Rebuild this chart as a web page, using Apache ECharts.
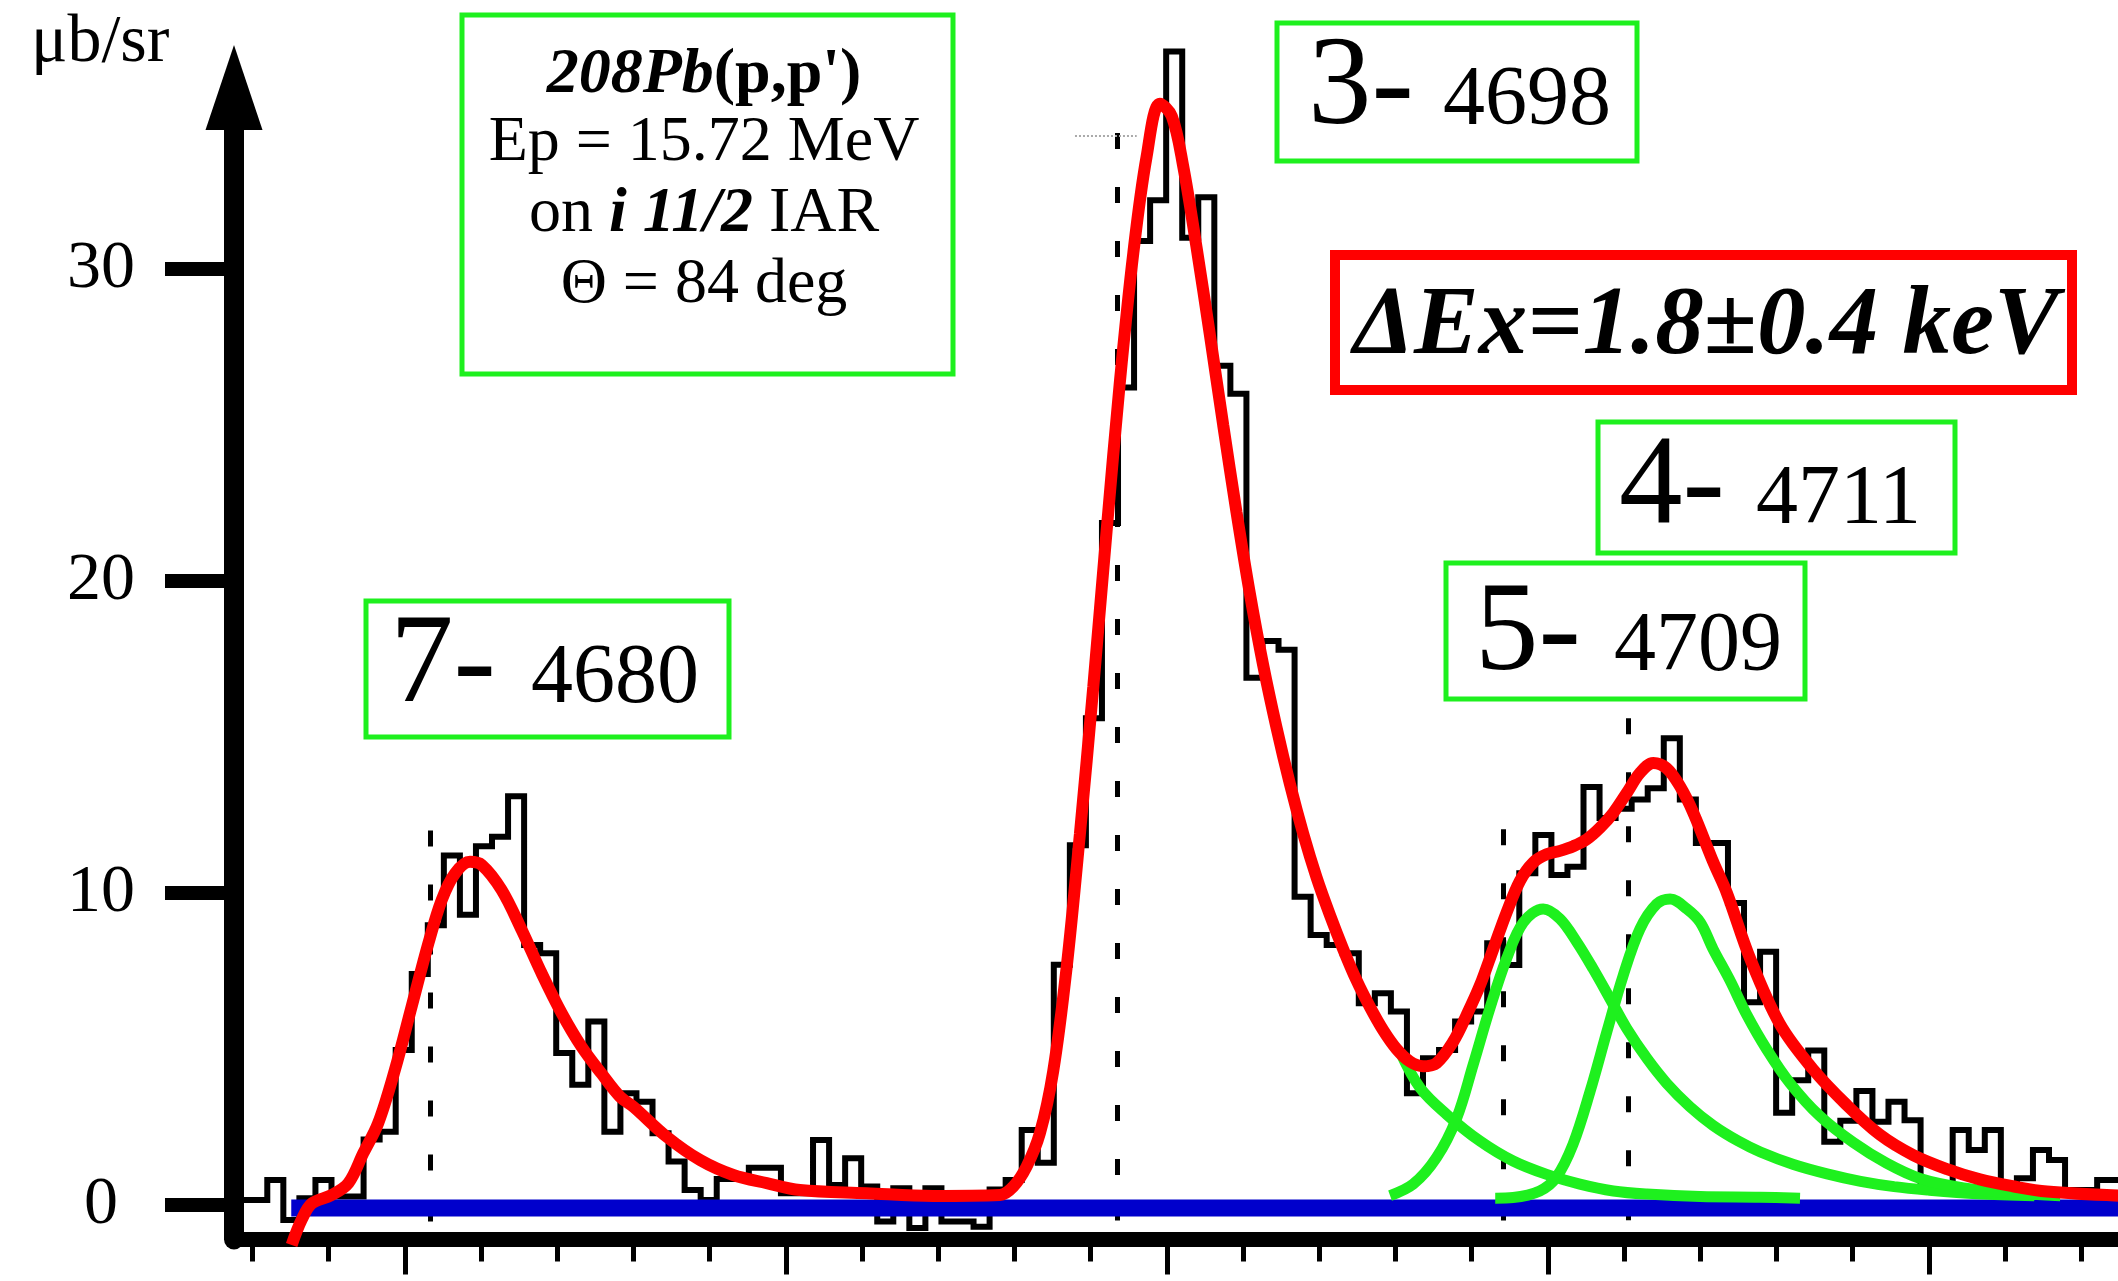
<!DOCTYPE html>
<html><head><meta charset="utf-8">
<script src="https://cdn.jsdelivr.net/npm/echarts@6/dist/echarts.min.js"></script>
<style>html,body{margin:0;padding:0;background:#fff}#c{width:2118px;height:1281px}</style>
</head><body><div id="c"></div>
<script>
// ---------- data ----------
const binStart = 4675.548;   // left edge of first histogram bin (keV-like axis units)
const binWidth = 0.4213;     // bin width
const counts = [
 0.16,0.16,0.8,-0.48,0.22,0.8,0.27,0.27,2.1,2.35,
 4.97,7.4,8.97,11.2,9.3,11.5,11.8,13.1,8.33,8.07,
 4.87,3.85,5.88,2.35,3.58,3.31,2.3,1.39,0.48,0.16,
 0.83,0.83,1.19,1.19,0.38,0.38,2.08,0.64,1.5,0.59,
 -0.53,0.54,-0.74,0.54,-0.53,-0.53,-0.7,0.5,0.8,2.4,
 1.35,7.7,11.53,15.6,21.86,26.2,30.9,32.2,36.97,31.0,
 32.3,26.9,26.0,16.9,18.08,17.8,9.88,8.65,8.33,8.07,
 6.47,6.79,6.2,3.58,4.7,4.97,5.88,6.2,8.39,7.69,
 10.63,11.86,10.58,10.84,13.4,12.4,12.7,13.0,13.36,14.96,
 13.0,11.6,11.6,9.68,6.5,8.12,2.96,4.0,4.95,2.03,
 2.7,3.65,2.67,3.31,2.72,0.48,0.48,2.4,1.76,2.4,
 0.59,0.86,1.76,1.44,0.48,0.48,0.8,0.8
];
const fitTotal = [
 [4677.03,-1.28],[4677.29,-0.48],[4677.56,0.05],[4678.08,0.32],[4678.52,0.7],[4678.91,1.66],[4679.30,2.62],
 [4679.74,4.33],[4680.18,6.36],[4680.62,8.39],[4680.97,9.78],[4681.32,10.63],[4681.71,11.0],[4682.02,10.9],
 [4682.54,10.1],[4683.07,8.81],[4683.59,7.43],[4684.12,6.14],[4684.64,5.07],[4685.17,4.2],[4685.65,3.47],
 [4686.00,3.15],[4686.87,2.19],[4687.75,1.44],[4688.62,0.96],[4689.50,0.7],[4690.37,0.48],[4692.12,0.38],
 [4693.87,0.29],[4695.62,0.32],[4695.97,0.59],[4696.32,1.23],[4696.67,2.3],[4697.02,4.3],[4697.37,7.6],
 [4697.72,11.9],[4698.07,16.6],[4698.42,21.6],[4698.77,26.4],[4699.12,30.5],[4699.47,33.6],[4699.82,35.3],
 [4700.13,34.9],[4700.43,33.3],[4700.78,30.7],[4701.13,27.9],[4701.48,25.0],[4701.83,22.2],[4702.18,19.6],
 [4702.53,17.3],[4702.88,15.3],[4703.23,13.5],[4703.58,11.9],[4703.93,10.5],[4704.28,9.3],[4704.63,8.2],
 [4704.98,7.2],[4705.33,6.35],[4705.68,5.6],[4706.03,5.0],[4706.38,4.6],[4706.73,4.45],[4707.08,4.55],
 [4707.52,5.24],[4707.87,6.09],[4708.22,7.04],[4708.57,8.21],[4708.92,9.38],
 [4709.27,10.39],[4709.62,10.98],[4709.97,11.24],[4710.32,11.35],[4710.67,11.5],[4711.02,11.72],[4711.37,12.09],
 [4711.72,12.57],[4712.07,13.2],[4712.42,13.85],[4712.77,14.17],[4713.12,14.0],[4713.47,13.42],[4713.82,12.57],
 [4714.34,11.0],[4714.70,10.0],[4715.31,7.9],[4716.09,5.8],[4716.96,4.35],[4717.85,3.2],[4718.72,2.25],
 [4719.59,1.6],[4720.48,1.15],[4721.34,0.82],[4722.21,0.6],[4723.10,0.43],[4724.97,0.3]
];
const fit3Tail = [
 [4706.12,4.92],[4706.65,3.75],[4707.35,2.9],[4708.22,2.05],[4709.09,1.41],[4709.97,0.98],[4710.84,0.67],
 [4711.72,0.45],[4712.60,0.35],[4714.00,0.27],[4715.57,0.25],[4716.62,0.22]
];
const fit5 = [
 [4705.86,0.3],[4706.47,0.67],[4707.08,1.52],[4707.61,2.79],[4708.04,4.49],[4708.48,6.3],
 [4708.92,7.9],[4709.36,9.06],[4709.88,9.49],[4710.32,9.17],[4710.76,8.43],[4711.19,7.57],[4711.63,6.62],
 [4712.07,5.66],[4712.60,4.7],[4713.12,3.9],[4713.73,3.15],[4714.34,2.55],[4715.00,2.05],[4715.58,1.7],
 [4716.45,1.3],[4717.33,1.0],[4718.21,0.76],[4719.09,0.59],[4719.96,0.48],[4721.27,0.36],[4722.77,0.3]
];
const fit4 = [
 [4708.62,0.22],[4709.09,0.24],[4709.79,0.45],[4710.22,0.88],[4710.66,1.94],[4711.11,3.64],[4711.55,5.55],
 [4711.98,7.36],[4712.42,8.85],[4712.86,9.65],[4713.21,9.81],[4713.65,9.49],[4714.00,9.06],[4714.34,8.2],
 [4714.78,7.2],[4715.22,6.1],[4715.74,5.0],[4716.36,3.9],[4717.14,2.85],[4718.02,2.0],[4718.89,1.34],
 [4719.77,0.85],[4720.91,0.55],[4722.21,0.38],[4723.45,0.3]
];
const baseline = [[4677.02,-0.1],[4724.97,-0.1]];
const peakMarks = [
 {x:4680.68, y0:-0.53, y1:12.0},
 {x:4698.71, y0:-0.5, y1:34.36},
 {x:4708.83, y0:-0.5, y1:12.04},
 {x:4712.11, y0:-0.5, y1:15.6}
];
const yTicks = [0, 10, 20, 30];
const xMajor = [4680, 4690, 4700, 4710, 4720];
const xMinor = [4676,4678,4682,4684,4686,4688,4692,4694,4696,4698,4702,4704,4706,4708,4712,4714,4716,4718,4722,4724];
const xRange = [4675.517, 4724.966];
const yRange = [-1.106, 35.817];

// ---------- build ----------
const histPts = counts.map((c, i) => [binStart + i * binWidth, c]);
histPts.push([binStart + counts.length * binWidth, counts[counts.length - 1]]);

const GREEN = '#1ef01e';
const SERIF = 'Liberation Serif';
function txt(x, y, text, size, extra) {
  return Object.assign({type:'text', x:x, y:y, z:100, style:Object.assign({
    text:text, fontFamily:SERIF, fontSize:size, fill:'#000',
    textAlign:'left', textVerticalAlign:'middle', align:'left', verticalAlign:'middle'
  }, extra || {})});
}
function box(x, y, w, h, color, lw) {
  return {type:'rect', z:90, shape:{x:x, y:y, width:w, height:h}, style:{fill:'#fff', stroke:color, lineWidth:lw}};
}
const richBase = {fontFamily:SERIF, fontSize:64, fill:'#000'};

const chart = echarts.init(document.getElementById('c'), null, {renderer:'canvas'});
chart.setOption({
  animation:false,
  backgroundColor:'#fff',
  grid:{left:234, right:0, top:87.5, bottom:41.5, containLabel:false, outerBoundsMode:'none'},
  xAxis:[
    {type:'value', min:xRange[0], max:xRange[1], position:'bottom',
     axisLine:{show:true, onZero:false, lineStyle:{color:'#000', width:15}},
     axisTick:{show:true, customValues:xMajor, length:35, lineStyle:{color:'#000', width:5}},
     axisLabel:{show:false}, splitLine:{show:false}},
    {type:'value', min:xRange[0], max:xRange[1], position:'bottom', gridIndex:0,
     axisLine:{show:false, onZero:false},
     axisTick:{show:true, customValues:xMinor, length:22, lineStyle:{color:'#000', width:5}},
     axisLabel:{show:false}, splitLine:{show:false}}
  ],
  yAxis:{type:'value', min:yRange[0], max:yRange[1],
    axisLine:{show:true, onZero:false, symbol:['none','triangle'], symbolSize:[57,85], lineStyle:{color:'#000', width:20}},
    axisTick:{show:true, customValues:yTicks, length:69, lineStyle:{color:'#000', width:14}},
    axisLabel:{show:true, customValues:yTicks, margin:133, align:'center', verticalAlign:'middle',
      fontFamily:SERIF, fontSize:68, color:'#000'},
    splitLine:{show:false}},
  series:[
    {type:'line', name:'data', data:histPts, step:'end', symbol:'none', clip:false, z:2,
     lineStyle:{color:'#000', width:6, join:'miter'},
     markLine:{silent:true, z:3, symbol:['none','none'], label:{show:false},
       lineStyle:{color:'#000', width:5, type:[16,38]},
       data: peakMarks.map(p => [{coord:[p.x, p.y1]}, {coord:[p.x, p.y0]}]).concat([
         [{coord:[4697.59, 34.26], lineStyle:{color:'#aaa', width:2, type:'dotted'}}, {coord:[4699.21, 34.26]}]
       ])}},
    {type:'line', name:'background', data:baseline, symbol:'none', clip:false, z:4,
     lineStyle:{color:'#0000cc', width:17, cap:'butt'}},
    {type:'line', name:'3- component', data:fit3Tail, smooth:0.35, symbol:'none', clip:false, z:5,
     lineStyle:{color:GREEN, width:11}},
    {type:'line', name:'5- component', data:fit5, smooth:0.35, symbol:'none', clip:false, z:5,
     lineStyle:{color:GREEN, width:11}},
    {type:'line', name:'4- component', data:fit4, smooth:0.35, symbol:'none', clip:false, z:5,
     lineStyle:{color:GREEN, width:11}},
    {type:'line', name:'fit', data:fitTotal, smooth:0.35, symbol:'none', clip:false, z:6,
     lineStyle:{color:'#ff0000', width:12}}
  ],
  graphic:[
    txt(31, 43, 'μb/sr', 68),
    box(462, 15, 491, 359, GREEN, 5),
    txt(704, 75, '{bi|208Pb}{b|(p,p\')}', 64, {textAlign:'center', align:'center',
      rich:{bi:Object.assign({}, richBase, {fontWeight:'bold', fontStyle:'italic'}), b:Object.assign({}, richBase, {fontWeight:'bold'})}}),
    txt(704, 143, 'Ep = 15.72 MeV', 64, {textAlign:'center', align:'center'}),
    txt(704, 214, '{n|on }{bi|i 11/2}{n| IAR}', 64, {textAlign:'center', align:'center',
      rich:{n:Object.assign({}, richBase), bi:Object.assign({}, richBase, {fontWeight:'bold', fontStyle:'italic'})}}),
    txt(704, 285, 'Θ = 84 deg', 64, {textAlign:'center', align:'center'}),

    box(1277, 23, 360, 138, GREEN, 5),
    txt(1308, 90, '3-', 127),
    txt(1443, 102, '4698', 84),

    box(1335, 255, 737, 135, '#ff0000', 10),
    txt(1706, 328, 'ΔEx=1.8±0.4 keV', 97, {textAlign:'center', align:'center', fontWeight:'bold', fontStyle:'italic'}),

    box(1598, 422, 357, 131, GREEN, 5),
    txt(1619, 489, '4-', 127),
    txt(1756, 501, '4711', 84),

    box(1446, 563, 359, 136, GREEN, 5),
    txt(1475, 636, '5-', 127),
    txt(1614, 648, '4709', 84),

    box(366, 601, 363, 136, GREEN, 5),
    txt(390, 668, '7-', 127),
    txt(531, 680, '4680', 84)
  ]
});
</script></body></html>
